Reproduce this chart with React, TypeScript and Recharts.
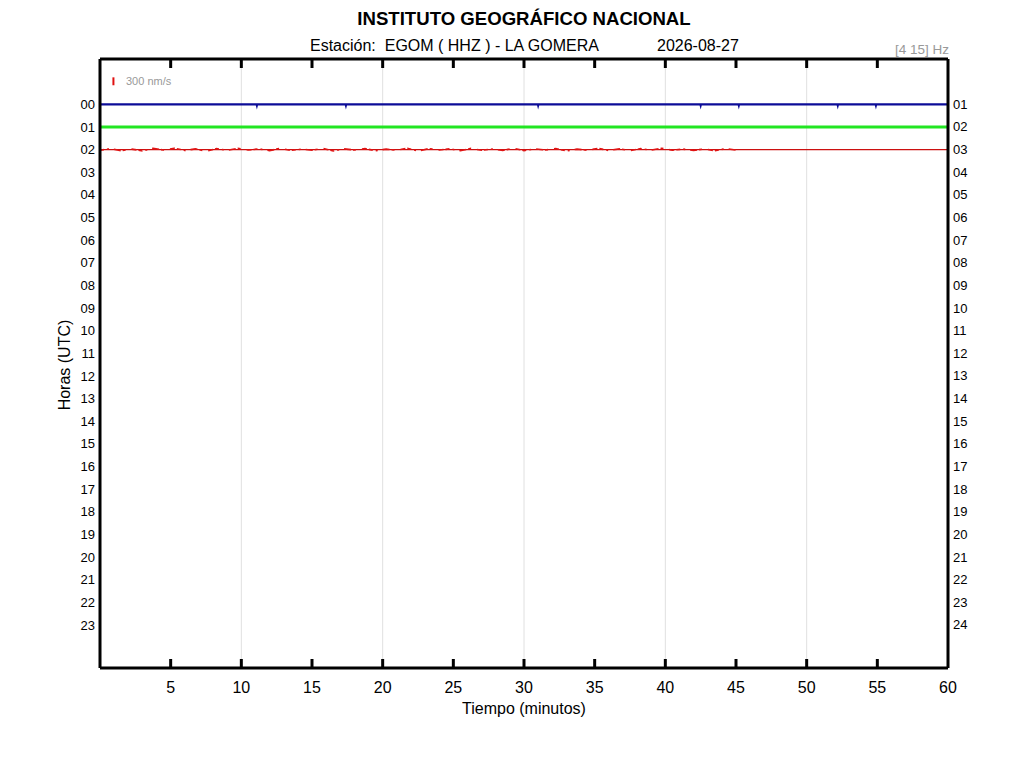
import { LineChart, Line, XAxis, YAxis, ReferenceLine } from 'recharts';

const minuteTicks = [5, 10, 15, 20, 25, 30, 35, 40, 45, 50, 55, 60];
const topTicks = [5, 10, 15, 20, 25, 30, 35, 40, 45, 50, 55];
const gridMinutes = [10, 20, 30, 40, 50];
const hourRows = [0, 1, 2, 3, 4, 5, 6, 7, 8, 9, 10, 11, 12, 13, 14, 15, 16, 17, 18, 19, 20, 21, 22, 23];
const leftHours = ['00', '01', '02', '03', '04', '05', '06', '07', '08', '09', '10', '11', '12', '13', '14', '15', '16', '17', '18', '19', '20', '21', '22', '23'];
const rightHours = ['01', '02', '03', '04', '05', '06', '07', '08', '09', '10', '11', '12', '13', '14', '15', '16', '17', '18', '19', '20', '21', '22', '23', '24'];

// hour 00 trace (blue), small blips in minutes
const blueBlips = [11.1, 17.4, 31.0, 42.5, 45.2, 52.2, 54.9];
// hour 01 trace (green)
const greenBlips = [4.5, 18.5, 24.2, 30.4, 39.2, 40.1, 51.6, 55.2];
// hour 02 trace (red), sampled every 0.75 min until ~45 min
const redNoise = [
  0.03, -0.04, 0.05, -0.02, 0.06, -0.05, 0.02, -0.06, 0.04, -0.03, 0.07, -0.04, 0.03, -0.05, 0.02, -0.03,
  0.05, -0.06, 0.04, -0.02, 0.03, -0.05, 0.06, -0.03, 0.02, -0.04, 0.05, -0.02, 0.03, -0.06, 0.07, -0.04,
  0.02, -0.03, 0.05, -0.05, 0.03, -0.02, 0.04, -0.06, 0.05, -0.03, 0.02, -0.04, 0.06, -0.02, 0.03, -0.05,
  0.04, -0.03, 0.05, -0.04, 0.02, -0.06, 0.03, -0.02, 0.04, -0.03, 0.05, -0.04, 0.02,
];

const blipTrace = (row: number, blips: number[], dir: number) => {
  const pts = [{ t: 0, v: row }];
  blips.forEach((b) => {
    pts.push({ t: b - 0.02, v: row }, { t: b, v: row + dir }, { t: b + 0.02, v: row });
  });
  pts.push({ t: 60, v: row });
  return pts;
};

const blueData = blipTrace(0, blueBlips, 0.045);
const greenData = blipTrace(1, greenBlips, -0.05);
const redBase = [{ t: 0, v: 2 }, { t: 60, v: 2 }];
const redData = redNoise.map((d, i) => ({ t: i * 0.75, v: 2 + d }));

const font = '"Liberation Sans", Arial, sans-serif';

const BottomTick = (props: any) => {
  const { x, y, payload } = props;
  return (
    <g>
      {payload.value < 60 && <line x1={x} x2={x} y1={y} y2={y - 9} stroke="#000" strokeWidth={3} />}
      <text x={x} y={y + 25} textAnchor="middle" fontSize={16} fontFamily={font} fill="#000">
        {payload.value}
      </text>
    </g>
  );
};

const TopTick = (props: any) => {
  const { x, y } = props;
  return <line x1={x} x2={x} y1={y} y2={y + 9} stroke="#000" strokeWidth={3} />;
};

const RightTick = (props: any) => {
  const { x, y, payload } = props;
  return (
    <text x={x} y={y} dy={4.5} textAnchor="start" fontSize={13} fontFamily={font} fill="#000">
      {rightHours[payload.value]}
    </text>
  );
};

const abs = (left: number, top: number, extra: any = {}) => ({
  position: 'absolute' as const,
  left,
  top,
  fontFamily: font,
  lineHeight: 1,
  whiteSpace: 'pre' as const,
  ...extra,
});

export default function App() {
  return (
    <div style={{ position: 'absolute', left: 0, top: 0, width: 1024, height: 768, background: '#fff' }}>
      <LineChart width={1024} height={768} margin={{ top: 49, right: 36, bottom: 70, left: 60 }}>
        <XAxis
          xAxisId="b"
          dataKey="t"
          type="number"
          domain={[0, 60]}
          ticks={minuteTicks}
          allowDataOverflow
          height={30}
          tickSize={0}
          tickMargin={0}
          tickLine={false}
          axisLine={{ stroke: '#000', strokeWidth: 3 }}
          tick={<BottomTick />}
        />
        <XAxis
          xAxisId="t"
          orientation="top"
          dataKey="t"
          type="number"
          domain={[0, 60]}
          ticks={topTicks}
          allowDataOverflow
          height={10}
          tickSize={0}
          tickMargin={0}
          tickLine={false}
          axisLine={{ stroke: '#000', strokeWidth: 3 }}
          tick={<TopTick />}
        />
        <YAxis
          yAxisId="l"
          type="number"
          domain={[-2, 24.9]}
          reversed
          ticks={hourRows}
          interval={0}
          width={40}
          tickLine={false}
          tickSize={0}
          tickMargin={5}
          axisLine={{ stroke: '#000', strokeWidth: 3 }}
          tick={{ fill: '#000', fontSize: 13, fontFamily: font }}
          tickFormatter={(v: number) => leftHours[v]}
        />
        <YAxis
          yAxisId="r"
          orientation="right"
          type="number"
          domain={[-2, 24.9]}
          reversed
          ticks={hourRows}
          interval={0}
          width={40}
          tickLine={false}
          tickSize={0}
          tickMargin={5}
          axisLine={{ stroke: '#000', strokeWidth: 3 }}
          tick={<RightTick />}
        />
        {gridMinutes.map((m) => (
          <ReferenceLine key={m} xAxisId="b" yAxisId="l" x={m} stroke="#e0e0e0" strokeWidth={1} />
        ))}
        <ReferenceLine
          xAxisId="b"
          yAxisId="l"
          segment={[{ x: 0.95, y: -1.19 }, { x: 0.95, y: -0.84 }]}
          stroke="#e01010"
          strokeWidth={2}
        />
        <Line xAxisId="b" yAxisId="l" data={blueData} dataKey="v" stroke="#0c0c98" strokeWidth={2.2} dot={false} isAnimationActive={false} />
        <Line xAxisId="b" yAxisId="l" data={greenData} dataKey="v" stroke="#22e622" strokeWidth={3} dot={false} isAnimationActive={false} />
        <Line xAxisId="b" yAxisId="r" data={redBase} dataKey="v" stroke="#cc1010" strokeWidth={1.2} dot={false} isAnimationActive={false} />
        <Line
          xAxisId="b"
          yAxisId="l"
          data={redData}
          dataKey="v"
          stroke="#e01414"
          strokeWidth={1.6}
          strokeDasharray="4 3 2 5 7 2 3 6 5 2"
          dot={false}
          isAnimationActive={false}
        />
      </LineChart>
      <div style={abs(524, 19, { transform: 'translate(-50%, -50%)', fontSize: 18.6, fontWeight: 'bold' })}>
        INSTITUTO GEOGRÁFICO NACIONAL
      </div>
      <div style={abs(310, 38, { fontSize: 16 })}>Estación:  EGOM ( HHZ ) - LA GOMERA</div>
      <div style={abs(657, 38, { fontSize: 16 })}>2026-08-27</div>
      <div style={abs(895, 43, { fontSize: 13.5, color: '#999' })}>[4 15] Hz</div>
      <div style={abs(126, 76, { fontSize: 11, color: '#999' })}>300 nm/s</div>
      <div style={abs(524, 709, { transform: 'translate(-50%, -50%)', fontSize: 16 })}>Tiempo (minutos)</div>
      <div style={abs(65, 365, { transform: 'translate(-50%, -50%) rotate(-90deg)', fontSize: 16 })}>Horas (UTC)</div>
    </div>
  );
}
